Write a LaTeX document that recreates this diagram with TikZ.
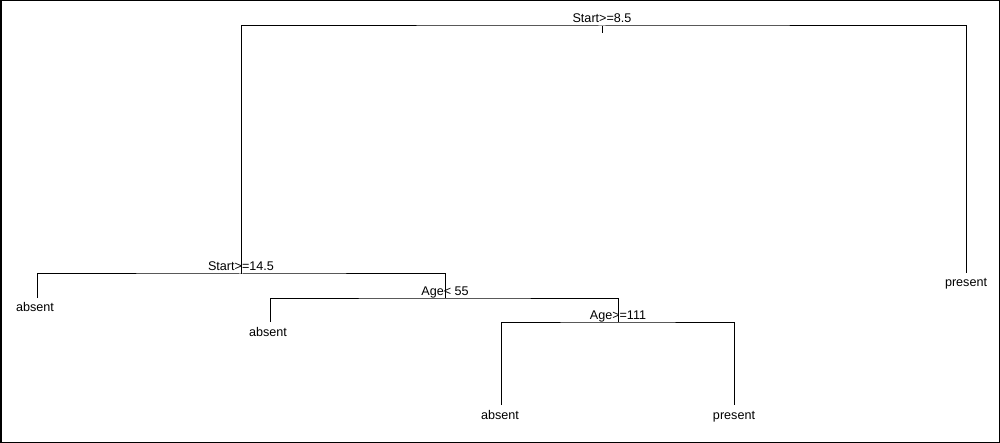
\documentclass[tikz,border=0pt]{standalone}
\usepackage{fontspec}
\setmainfont{Liberation Sans}
\tikzset{
  split/.style={anchor=base, inner sep=0pt, font=\fontsize{12.6}{14}\selectfont},
  leaf/.style={anchor=base, inner sep=0pt, font=\fontsize{12.6}{14}\selectfont},
  branch/.style={line width=1pt, black}
}
\begin{document}
\begin{tikzpicture}[x=1pt,y=-1pt]
 \useasboundingbox (0,0) rectangle (1000,443);
 \draw[line width=1.5pt] (0.75,0.75) rectangle (999.25,442.25);
 % split points
 \coordinate (s1) at (602,26);
 \coordinate (s2) at (241,274);
 \coordinate (s3) at (445,298);
 \coordinate (s4) at (618,322);
 \node[split] (t1) at ([yshift=3pt]s1) {Start>=8.5};
 \node[split] (t2) at ([yshift=3pt]s2) {Start>=14.5};
 \node[split] (t3) at ([yshift=3pt]s3) {Age< 55};
 \node[split] (t4) at ([yshift=3pt]s4) {Age>=111};
 % leaves
 \node[leaf] (a1) at (35,312) {absent};
 \node[leaf] (a2) at (268,336) {absent};
 \node[leaf] (a3) at (500,419) {absent};
 \node[leaf] (p1) at (734,419) {present};
 \node[leaf] (p2) at (966,287) {present};
 %
 \draw[branch] (s1) -- ++(0,7);
 \draw[branch] (s2) |- (s1) -| ([yshift=14pt]p2.base);
 \draw[branch] ([xshift=2pt,yshift=14pt]a1.base) |- (s2) -| (s3);
 \draw[branch] ([xshift=2pt,yshift=14pt]a2.base) |- (s3) -| (s4);
 \draw[branch] ([xshift=1pt,yshift=14pt]a3.base) |- (s4) -| ([yshift=14pt]p1.base);
\end{tikzpicture}
\end{document}
